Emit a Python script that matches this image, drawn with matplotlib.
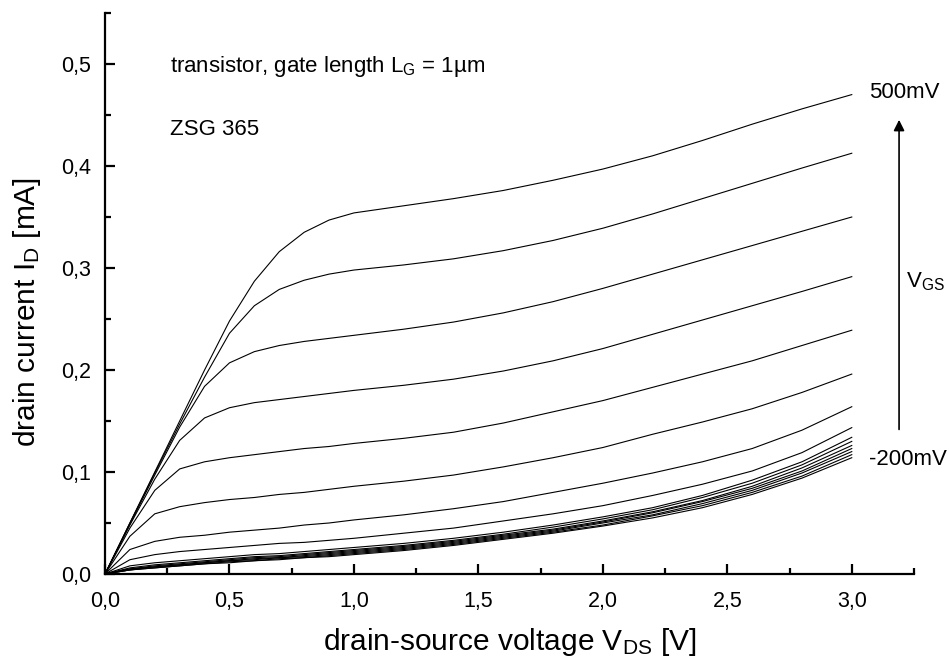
import matplotlib
matplotlib.use('Agg')
import matplotlib.pyplot as plt
from matplotlib.ticker import MultipleLocator

plt.rcParams['font.family'] = ['Liberation Sans', 'DejaVu Sans']
plt.rcParams['mathtext.default'] = 'regular'

# drain-source voltage grid [V]
vds = [0.0, 0.1, 0.2, 0.3, 0.4, 0.5, 0.6, 0.7, 0.8, 0.9, 1.0,
       1.2, 1.4, 1.6, 1.8, 2.0, 2.2, 2.4, 2.6, 2.8, 3.0]

# drain current [mA], one curve per gate voltage (500mV ... -200mV, 50mV steps)
id_500 = [0, 0.050, 0.100, 0.150, 0.200, 0.248, 0.287, 0.316, 0.335, 0.347, 0.354,
          0.361, 0.368, 0.376, 0.386, 0.397, 0.410, 0.425, 0.441, 0.456, 0.470]
id_450 = [0, 0.050, 0.099, 0.147, 0.193, 0.236, 0.263, 0.279, 0.288, 0.294, 0.298,
          0.303, 0.309, 0.317, 0.327, 0.339, 0.353, 0.368, 0.383, 0.398, 0.4125]
id_400 = [0, 0.049, 0.097, 0.144, 0.184, 0.207, 0.218, 0.224, 0.228, 0.231, 0.234,
          0.240, 0.247, 0.256, 0.267, 0.280, 0.294, 0.308, 0.322, 0.336, 0.350]
id_350 = [0, 0.048, 0.093, 0.131, 0.153, 0.163, 0.168, 0.171, 0.174, 0.177, 0.180,
          0.185, 0.191, 0.199, 0.209, 0.221, 0.235, 0.249, 0.263, 0.277, 0.2915]
id_300 = [0, 0.045, 0.082, 0.103, 0.110, 0.114, 0.117, 0.120, 0.123, 0.125, 0.128,
          0.133, 0.139, 0.148, 0.159, 0.170, 0.183, 0.196, 0.209, 0.224, 0.239]
id_250 = [0, 0.037, 0.059, 0.066, 0.070, 0.073, 0.075, 0.078, 0.080, 0.083, 0.086,
          0.091, 0.097, 0.105, 0.114, 0.124, 0.137, 0.149, 0.162, 0.178, 0.196]
id_200 = [0, 0.024, 0.032, 0.036, 0.038, 0.041, 0.043, 0.045, 0.048, 0.050, 0.053,
          0.058, 0.064, 0.071, 0.080, 0.089, 0.099, 0.110, 0.123, 0.141, 0.164]
id_150 = [0, 0.014, 0.019, 0.022, 0.024, 0.026, 0.028, 0.030, 0.031, 0.033, 0.035,
          0.040, 0.045, 0.052, 0.059, 0.067, 0.077, 0.088, 0.101, 0.119, 0.1435]
id_100 = [0, 0.008, 0.011, 0.013, 0.015, 0.017, 0.019, 0.020, 0.022, 0.024, 0.026,
          0.030, 0.035, 0.041, 0.048, 0.056, 0.065, 0.077, 0.092, 0.110, 0.134]
id_050 = [0, 0.006, 0.009, 0.011, 0.013, 0.015, 0.017, 0.018, 0.020, 0.022, 0.024,
          0.028, 0.033, 0.039, 0.046, 0.054, 0.063, 0.075, 0.089, 0.107, 0.130]
id_000 = [0, 0.005, 0.008, 0.010, 0.012, 0.014, 0.016, 0.017, 0.019, 0.021, 0.023,
          0.027, 0.032, 0.038, 0.044, 0.052, 0.061, 0.072, 0.086, 0.104, 0.126]
id_m050 = [0, 0.005, 0.007, 0.009, 0.011, 0.013, 0.015, 0.016, 0.018, 0.020, 0.022,
           0.026, 0.031, 0.037, 0.043, 0.051, 0.060, 0.071, 0.084, 0.101, 0.123]
id_m100 = [0, 0.004, 0.007, 0.009, 0.011, 0.013, 0.014, 0.016, 0.017, 0.019, 0.021,
           0.025, 0.030, 0.036, 0.042, 0.050, 0.058, 0.069, 0.082, 0.099, 0.120]
id_m150 = [0, 0.004, 0.006, 0.008, 0.010, 0.012, 0.013, 0.015, 0.016, 0.018, 0.020,
           0.024, 0.029, 0.035, 0.041, 0.048, 0.057, 0.067, 0.080, 0.096, 0.117]
id_m200 = [0, 0.004, 0.006, 0.008, 0.010, 0.011, 0.013, 0.014, 0.016, 0.017, 0.019,
           0.023, 0.028, 0.034, 0.040, 0.047, 0.055, 0.065, 0.078, 0.094, 0.114]

curves = [id_500, id_450, id_400, id_350, id_300, id_250, id_200, id_150,
          id_100, id_050, id_000, id_m050, id_m100, id_m150, id_m200]

xticks = [0.0, 0.5, 1.0, 1.5, 2.0, 2.5, 3.0]
xticklabels = ['0,0', '0,5', '1,0', '1,5', '2,0', '2,5', '3,0']
yticks = [0.0, 0.1, 0.2, 0.3, 0.4, 0.5]
yticklabels = ['0,0', '0,1', '0,2', '0,3', '0,4', '0,5']

fig = plt.figure(figsize=(9.5, 6.59), dpi=100)
ax = fig.add_axes([105/950, 1-574/659, 809/950, 561/659])

for cur in curves:
    ax.plot(vds, cur, '-k', linewidth=0.8)

ax.set_xlim(0, 3.25)
ax.set_ylim(0, 0.55)
ax.spines['top'].set_visible(False)
ax.spines['right'].set_visible(False)
ax.spines['left'].set_linewidth(1.6)
ax.spines['bottom'].set_linewidth(1.6)

ax.set_xticks(xticks)
ax.set_xticklabels(xticklabels)
ax.set_yticks(yticks)
ax.set_yticklabels(yticklabels)
ax.xaxis.set_minor_locator(MultipleLocator(0.25))
ax.yaxis.set_minor_locator(MultipleLocator(0.05))
ax.tick_params(which='major', direction='in', length=7.5, width=1.6, labelsize=15.5)
ax.tick_params(which='minor', direction='in', length=4, width=1.6)
ax.tick_params(axis='x', which='major', pad=12)
ax.tick_params(axis='y', which='major', pad=10)

fig.text(509.5/950, 1-650/659, r'drain-source voltage $V_{DS}$ [V]',
         ha='center', va='baseline', fontsize=21.5)
fig.text(27/950, 1-312/659, r'drain current $I_D$ [mA]', rotation=90,
         ha='center', va='center', fontsize=21.5)

ax.text(0.2615, 0.4925, r'transistor, gate length $L_G$ = 1µm', fontsize=16, va='baseline')
ax.text(0.2615, 0.4304, 'ZSG 365', fontsize=16, va='baseline')

ax.text(3.069, 0.4667, '500mV', fontsize=16, va='baseline')
ax.text(3.069, 0.1069, '-200mV', fontsize=16, va='baseline')
ax.text(3.218, 0.2814, r'$V_{GS}$', fontsize=16, va='baseline')
ax.annotate('', xy=(3.19, 0.448), xytext=(3.19, 0.139),
            arrowprops=dict(arrowstyle='-|>', lw=1.2, color='k', mutation_scale=16),
            annotation_clip=False)

fig.savefig('out.png', dpi=100)
